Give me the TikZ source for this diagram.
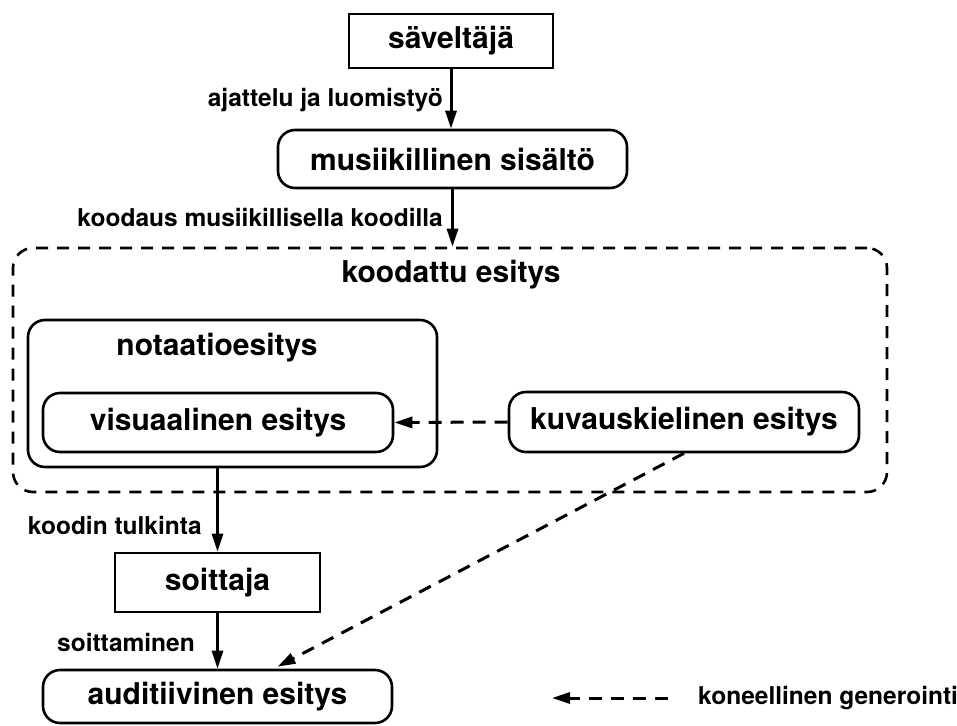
\documentclass[tikz,border=0pt]{standalone}
\usepackage{fontspec}
\setmainfont{TeX Gyre Heros}
\usetikzlibrary{arrows.meta,calc}
\begin{document}
\begin{tikzpicture}[x=1pt,y=-1pt,
  every node/.style={font=\bfseries\fontsize{30}{32}\selectfont},
  lbl/.style={font=\bfseries\fontsize{24.5}{26}\selectfont, inner sep=0pt, anchor=east},
  rectbox/.style={draw, line width=2.6pt, inner sep=0pt},
  rbox/.style={draw, line width=2.6pt, inner sep=0pt, rounded corners=17pt},
  dashbox/.style={draw, line width=2.6pt, inner sep=0pt, rounded corners=20pt, dash pattern=on 12pt off 9pt},
  arr/.style={line width=3pt, -{Triangle[length=18pt,width=11pt]}},
  darr/.style={line width=3pt, dash pattern=on 13pt off 9pt, -{Triangle[length=18pt,width=11pt]}}
]
\useasboundingbox (0,0) rectangle (957,725);

\node[rectbox, minimum width=204pt, minimum height=54pt] (sav) at (451,41) {säveltäjä};
\node[rbox, minimum width=349pt, minimum height=58pt] (mus) at (452.5,159) {musiikillinen sisältö};
\node[dashbox, minimum width=874pt, minimum height=244pt] (kood) at (450,370) {};
\node[inner sep=0pt] (koodtext) at (451,275) {koodattu esitys};
\node[rbox, minimum width=409pt, minimum height=147pt] (nota) at (232.5,393.5) {};
\node[inner sep=0pt] (notatext) at (217,348) {notaatioesitys};
\node[rbox, minimum width=350pt, minimum height=59pt] (vis) at (218,422.5) {visuaalinen esitys};
\node[rbox, minimum width=350pt, minimum height=60pt] (kuv) at (684,422) {kuvauskielinen esitys};
\node[rectbox, minimum width=205pt, minimum height=59pt] (soit) at (217.5,582.5) {soittaja};
\node[rbox, minimum width=349pt, minimum height=53pt] (aud) at (217.5,696.5) {auditiivinen esitys};

\node[lbl] (l1) at (443,100) {ajattelu ja luomistyö};
\node[lbl] (l2) at (443,217) {koodaus musiikillisella koodilla};
\node[lbl] (l3) at (202,525) {koodin tulkinta};
\node[lbl] (l4) at (195,642) {soittaminen};

\draw[arr] (sav.south) -- (sav.south |- mus.north);
\draw[arr] (mus.south) -- (mus.south |- kood.north);
\draw[arr] (nota.south -| soit.north) -- (soit.north);
\draw[arr] (soit.south) -- (soit.south |- aud.north);
\draw[darr] (kuv.west) -- (vis.east);
\draw[darr] (kuv.south) -- ($(aud.north)+(60,-2)$);

\coordinate (lgA) at (668,698);
\coordinate (lgB) at (552,698);
\draw[darr] (lgA) -- (lgB);
\node[lbl, anchor=west] (lgtext) at (698,698) {koneellinen generointi};
\end{tikzpicture}
\end{document}
